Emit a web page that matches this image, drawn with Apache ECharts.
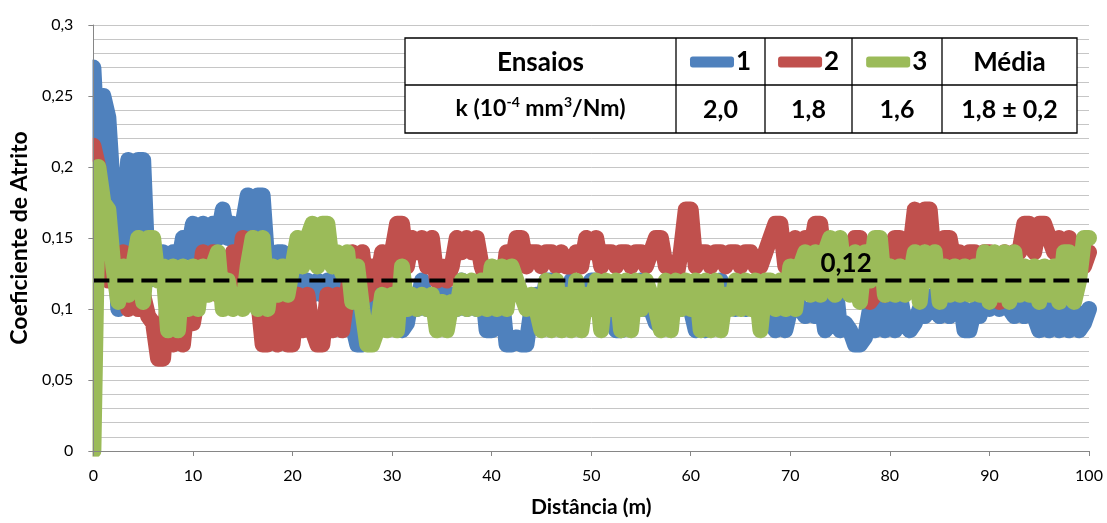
<!DOCTYPE html>
<html lang="pt">
<head>
<meta charset="utf-8">
<title>Coeficiente de Atrito</title>
<script src="https://cdn.jsdelivr.net/npm/echarts@6/dist/echarts.min.js"></script>
<style>
  html, body { margin: 0; padding: 0; background: #fff; }
  #chart { width: 1107px; height: 523px; }
</style>
</head>
<body>
<div id="chart"></div>
<script>
// passo de distancia entre leituras (m)
var passo = 0.5;

// ensaio 1 (azul), de 0 a 100 m
var ensaio1 = [
  0.27, 0.2, 0.25, 0.235, 0.18, 0.1, 0.16, 0.205, 0.15, 0.205, 0.205, 0.12, 0.14, 0.13, 0.14, 0.12, 0.14, 0.13, 0.15, 0.14,
  0.16, 0.13, 0.16, 0.14, 0.16, 0.15, 0.17, 0.15, 0.16, 0.14, 0.16, 0.18, 0.15, 0.18, 0.18, 0.13, 0.11, 0.14, 0.14, 0.1,
  0.11, 0.12, 0.1, 0.12, 0.11, 0.12, 0.11, 0.12, 0.1, 0.12, 0.1, 0.11, 0.09, 0.075, 0.075, 0.08, 0.1, 0.11, 0.1, 0.12,
  0.1, 0.12, 0.085, 0.09, 0.11, 0.1, 0.12, 0.1, 0.11, 0.1, 0.12, 0.1, 0.11, 0.1, 0.12, 0.1, 0.11, 0.1, 0.12, 0.085,
  0.085, 0.1, 0.11, 0.075, 0.075, 0.08, 0.075, 0.075, 0.1, 0.11, 0.1, 0.12, 0.12, 0.1, 0.11, 0.1, 0.12, 0.1, 0.11, 0.1,
  0.12, 0.12, 0.11, 0.1, 0.11, 0.085, 0.085, 0.1, 0.11, 0.1, 0.12, 0.1, 0.1, 0.09, 0.1, 0.11, 0.1, 0.12, 0.1, 0.11,
  0.1, 0.085, 0.09, 0.085, 0.11, 0.1, 0.12, 0.1, 0.11, 0.1, 0.12, 0.1, 0.11, 0.1, 0.12, 0.1, 0.11, 0.085, 0.09, 0.085,
  0.1, 0.11, 0.1, 0.095, 0.1, 0.095, 0.11, 0.085, 0.09, 0.12, 0.085, 0.09, 0.085, 0.075, 0.075, 0.08, 0.1, 0.085, 0.1, 0.085,
  0.1, 0.085, 0.11, 0.09, 0.085, 0.09, 0.1, 0.095, 0.1, 0.11, 0.095, 0.11, 0.095, 0.1, 0.11, 0.085, 0.085, 0.1, 0.095, 0.11,
  0.1, 0.11, 0.1, 0.11, 0.1, 0.095, 0.11, 0.095, 0.1, 0.095, 0.085, 0.11, 0.085, 0.1, 0.085, 0.11, 0.085, 0.1, 0.085, 0.09,
  0.1
];

// ensaio 2 (vermelho)
var ensaio2 = [
  0.215, 0.2, 0.16, 0.12, 0.14, 0.13, 0.14, 0.1, 0.14, 0.1, 0.11, 0.095, 0.09, 0.065, 0.065, 0.11, 0.075, 0.1, 0.075, 0.11,
  0.09, 0.11, 0.14, 0.12, 0.14, 0.11, 0.12, 0.11, 0.14, 0.115, 0.15, 0.14, 0.15, 0.11, 0.075, 0.075, 0.1, 0.075, 0.11, 0.075,
  0.075, 0.11, 0.085, 0.11, 0.085, 0.075, 0.075, 0.11, 0.085, 0.11, 0.085, 0.11, 0.14, 0.12, 0.14, 0.11, 0.13, 0.12, 0.14, 0.12,
  0.14, 0.16, 0.16, 0.13, 0.15, 0.14, 0.15, 0.13, 0.15, 0.12, 0.13, 0.12, 0.13, 0.15, 0.14, 0.15, 0.14, 0.15, 0.13, 0.12,
  0.115, 0.12, 0.11, 0.14, 0.13, 0.15, 0.15, 0.13, 0.14, 0.14, 0.13, 0.14, 0.14, 0.13, 0.14, 0.13, 0.13, 0.14, 0.13, 0.15,
  0.14, 0.15, 0.13, 0.14, 0.14, 0.13, 0.14, 0.14, 0.13, 0.14, 0.14, 0.13, 0.14, 0.15, 0.15, 0.13, 0.13, 0.12, 0.14, 0.17,
  0.17, 0.13, 0.14, 0.14, 0.13, 0.14, 0.14, 0.13, 0.14, 0.14, 0.13, 0.14, 0.14, 0.13, 0.13, 0.14, 0.15, 0.16, 0.16, 0.13,
  0.14, 0.15, 0.14, 0.15, 0.14, 0.16, 0.16, 0.13, 0.14, 0.13, 0.14, 0.13, 0.14, 0.15, 0.15, 0.11, 0.105, 0.11, 0.12, 0.11,
  0.13, 0.15, 0.15, 0.13, 0.14, 0.17, 0.15, 0.17, 0.17, 0.13, 0.14, 0.15, 0.15, 0.13, 0.14, 0.13, 0.14, 0.14, 0.13, 0.14,
  0.14, 0.13, 0.105, 0.14, 0.13, 0.14, 0.14, 0.16, 0.16, 0.14, 0.16, 0.16, 0.15, 0.14, 0.15, 0.14, 0.15, 0.13, 0.14, 0.13,
  0.14
];

// ensaio 3 (verde)
var ensaio3 = [
  0, 0.2, 0.175, 0.17, 0.13, 0.105, 0.13, 0.11, 0.13, 0.15, 0.105, 0.15, 0.15, 0.12, 0.13, 0.085, 0.13, 0.085, 0.13, 0.1,
  0.13, 0.1, 0.13, 0.11, 0.13, 0.14, 0.1, 0.12, 0.1, 0.11, 0.1, 0.13, 0.15, 0.1, 0.15, 0.1, 0.13, 0.11, 0.13, 0.11,
  0.13, 0.15, 0.13, 0.15, 0.16, 0.13, 0.16, 0.16, 0.13, 0.14, 0.125, 0.14, 0.105, 0.13, 0.1, 0.075, 0.075, 0.085, 0.11, 0.085,
  0.11, 0.085, 0.13, 0.1, 0.11, 0.1, 0.11, 0.1, 0.11, 0.085, 0.105, 0.085, 0.105, 0.1, 0.12, 0.1, 0.12, 0.1, 0.12, 0.1,
  0.13, 0.1, 0.13, 0.1, 0.13, 0.12, 0.11, 0.1, 0.11, 0.1, 0.085, 0.12, 0.085, 0.12, 0.085, 0.11, 0.085, 0.12, 0.085, 0.11,
  0.1, 0.12, 0.085, 0.12, 0.1, 0.12, 0.085, 0.12, 0.085, 0.12, 0.1, 0.12, 0.11, 0.1, 0.085, 0.12, 0.085, 0.12, 0.1, 0.12,
  0.1, 0.12, 0.085, 0.12, 0.085, 0.12, 0.085, 0.11, 0.1, 0.12, 0.1, 0.12, 0.1, 0.12, 0.085, 0.12, 0.12, 0.1, 0.12, 0.1,
  0.13, 0.1, 0.13, 0.14, 0.11, 0.14, 0.11, 0.14, 0.15, 0.11, 0.15, 0.12, 0.11, 0.14, 0.105, 0.14, 0.12, 0.15, 0.15, 0.11,
  0.13, 0.11, 0.13, 0.11, 0.12, 0.14, 0.105, 0.14, 0.12, 0.14, 0.105, 0.13, 0.11, 0.13, 0.11, 0.13, 0.11, 0.13, 0.11, 0.14,
  0.105, 0.14, 0.11, 0.14, 0.105, 0.14, 0.11, 0.13, 0.11, 0.13, 0.105, 0.13, 0.11, 0.13, 0.105, 0.14, 0.14, 0.105, 0.12, 0.15,
  0.15
];

var media = 0.12;
var mediaRotulo = '0,12';

// tabela
var nomesEnsaios = ['1', '2', '3'];
var taxaK = ['2,0', '1,8', '1,6'];
var taxaKMedia = '1,8 ± 0,2';
var cores = ['#4F81BD', '#C0504D', '#9BBB59'];

var fonte = 'Lato, "Open Sans", sans-serif';
var corEixo = '#868686';

function pontos(valores) {
    return valores.map(function (v, i) { return [i * passo, v]; });
}

function virgula(v) {
    return String(+v.toFixed(2)).replace('.', ',');
}

var chart = echarts.init(document.getElementById('chart'), null, { renderer: 'canvas' });

// colunas e linhas da tabela (px)
var colX = [405, 676, 765, 852, 942, 1077];
var linY = [38, 85, 133];

var graficos = [];
// mascara: as linhas grossas nao passam para fora do eixo (como no Excel)
graficos.push({ type: 'rect', z: 6, shape: { x: 79, y: 40, width: 13.5, height: 428 }, style: { fill: '#fff' } });
graficos.push({ type: 'rect', z: 6, shape: { x: 79, y: 456.6, width: 26, height: 9 }, style: { fill: '#fff' } });

graficos.push({
    type: 'rect', z: 50,
    shape: { x: colX[0], y: linY[0], width: colX[5] - colX[0], height: linY[2] - linY[0] },
    style: { fill: '#fff', stroke: '#000', lineWidth: 1.3 }
});
graficos.push({
    type: 'line', z: 51,
    shape: { x1: colX[0], y1: linY[1], x2: colX[5], y2: linY[1] },
    style: { stroke: '#000', lineWidth: 1.3 }
});
for (var c = 1; c < 5; c++) {
    graficos.push({
        type: 'line', z: 51,
        shape: { x1: colX[c], y1: linY[0], x2: colX[c], y2: linY[2] },
        style: { stroke: '#000', lineWidth: 1.3 }
    });
}
function celula(col, lin, txt, tam) {
    return {
        type: 'text', z: 52,
        x: (colX[col] + colX[col + 1]) / 2,
        y: (linY[lin] + linY[lin + 1]) / 2 + 1,
        style: {
            text: txt, fill: '#000', align: 'center', verticalAlign: 'middle',
            font: 'bold ' + tam + 'px ' + fonte
        }
    };
}
graficos.push(celula(0, 0, 'Ensaios', 26));
graficos.push(celula(4, 0, 'Média', 26));
graficos.push({
    type: 'text', z: 52,
    x: (colX[0] + colX[1]) / 2,
    y: (linY[1] + linY[2]) / 2,
    style: {
        text: '{n|k (10}{s|-4}{n| mm}{s|3}{n|/Nm)}',
        align: 'center', verticalAlign: 'middle',
        rich: {
            n: { fontFamily: fonte, fontWeight: 'bold', fontSize: 23, lineHeight: 28, fill: '#000', verticalAlign: 'middle' },
            s: { fontFamily: fonte, fontWeight: 'bold', fontSize: 14, lineHeight: 15, fill: '#000', verticalAlign: 'top' }
        }
    }
});
for (var k = 0; k < taxaK.length; k++) {
    graficos.push(celula(k + 1, 1, taxaK[k], 25));
}
graficos.push(celula(4, 1, taxaKMedia, 25));

var option = {
    animation: false,
    backgroundColor: '#fff',
    color: cores,
    textStyle: { fontFamily: fonte },
    grid: { left: 93, right: 18, top: 25, bottom: 67, containLabel: false },
    legend: {
        data: nomesEnsaios,
        left: 685, top: 43,
        icon: 'roundRect',
        itemWidth: 44, itemHeight: 11,
        itemGap: 27,
        z: 60,
        itemStyle: { borderWidth: 0 },
        textStyle: { fontFamily: fonte, fontWeight: 'bold', fontSize: 26, lineHeight: 28, color: '#000', padding: [0, 0, 0, -3] }
    },
    xAxis: [
        {
            type: 'value', min: 0, max: 100, interval: 10,
            name: 'Distância (m)', nameLocation: 'middle', nameGap: 46,
            nameTextStyle: { fontFamily: fonte, fontWeight: 'bold', fontSize: 21, color: '#000' },
            axisLine: { show: false },
            axisTick: { show: false },
            axisLabel: { fontSize: 16, color: '#000', margin: 17 },
            splitLine: { show: false }
        },
        {
            // so a linha e os tracos, por cima da mascara
            type: 'value', min: 0, max: 100, interval: 10, position: 'bottom', z: 7,
            axisLine: { show: true, lineStyle: { color: corEixo, width: 1 } },
            axisTick: { show: true, length: 5, lineStyle: { color: corEixo } },
            axisLabel: { show: false },
            splitLine: { show: false }
        }
    ],
    yAxis: [
        {
            type: 'value', min: 0, max: 0.3, interval: 0.05,
            name: 'Coeficiente de Atrito', nameLocation: 'middle', nameGap: 60, nameRotate: 90,
            nameTextStyle: { fontFamily: fonte, fontWeight: 'bold', fontSize: 23, color: '#000' },
            axisLine: { show: false },
            axisTick: { show: false },
            axisLabel: { fontSize: 16, color: '#000', margin: 20, formatter: virgula },
            splitLine: { show: true, lineStyle: { color: '#c6c6c6', width: 1 } },
            minorTick: { show: false, splitNumber: 5 },
            minorSplitLine: { show: true, lineStyle: { color: '#c6c6c6', width: 1 } }
        },
        {
            type: 'value', min: 0, max: 0.3, interval: 0.05, position: 'left', z: 7,
            axisLine: { show: true, lineStyle: { color: corEixo, width: 1 } },
            axisTick: { show: true, length: 5, lineStyle: { color: corEixo } },
            axisLabel: { show: false },
            splitLine: { show: false }
        }
    ],
    graphic: graficos,
    series: [
        {
            name: nomesEnsaios[0], type: 'line', data: pontos(ensaio1), symbol: 'none',
            lineStyle: { width: 16, cap: 'round', join: 'round', color: cores[0] }, z: 2
        },
        {
            name: nomesEnsaios[1], type: 'line', data: pontos(ensaio2), symbol: 'none',
            lineStyle: { width: 16, cap: 'round', join: 'round', color: cores[1] }, z: 3
        },
        {
            name: nomesEnsaios[2], type: 'line', data: pontos(ensaio3), symbol: 'none',
            lineStyle: { width: 16, cap: 'round', join: 'round', color: cores[2] }, z: 4
        },
        {
            name: 'Média', type: 'line', z: 5, symbol: 'none',
            data: [[0, media], [100, media]],
            lineStyle: { width: 4, color: '#000', type: [16, 8] },
            markPoint: {
                symbol: 'circle', symbolSize: 0,
                data: [{ coord: [75.6, media] }],
                label: {
                    show: true, formatter: mediaRotulo, position: 'top', distance: 4,
                    fontFamily: fonte, fontWeight: 'bold', fontSize: 26, color: '#000'
                }
            }
        }
    ]
};

chart.setOption(option);
window.onresize = chart.resize;
</script>
</body>
</html>
